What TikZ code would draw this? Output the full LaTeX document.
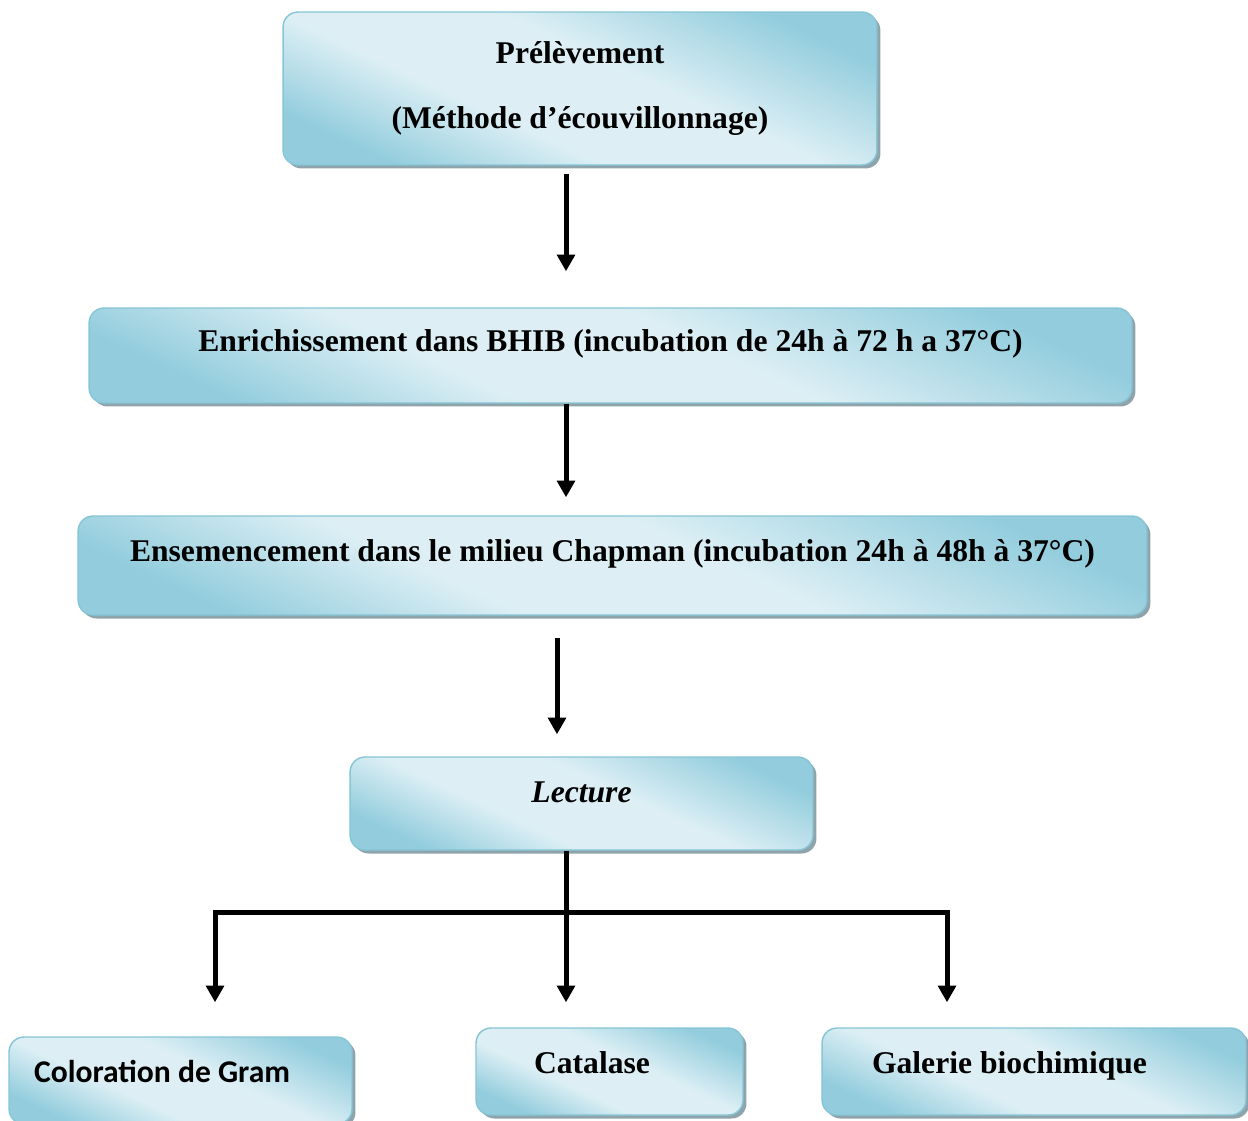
\documentclass[tikz,border=0pt]{standalone}
\usepackage{fontspec}
\setmainfont{Liberation Serif}
\newfontfamily\calibri{Carlito}
\usetikzlibrary{arrows.meta,shadows}

\definecolor{boxlight}{HTML}{DDEFF5}
\definecolor{boxdark}{HTML}{93CDDD}
\definecolor{boxedge}{HTML}{86C5D6}
\definecolor{shadowgray}{HTML}{8FA3AB}
\pgfdeclareverticalshading{stageshade}{100bp}{color(0bp)=(boxdark); color(25bp)=(boxdark);
    color(40bp)=(boxlight); color(56bp)=(boxlight); color(75bp)=(boxdark); color(100bp)=(boxdark)}

\begin{document}
\begin{tikzpicture}[x=0.02cm, y=0.02cm,
    every node/.style={font=\fontsize{18}{22}\selectfont\bfseries},
    stage/.style={draw=boxedge, line width=0.8pt, rounded corners=0.3cm,
        shading=stageshade, shading angle=-25,
        drop shadow={shadow xshift=0.07cm, shadow yshift=-0.07cm, fill=shadowgray, opacity=1}},
    lift/.style={text height=12pt, text depth=#1},
    flow/.style={line width=0.1cm, -{Triangle[width=10pt,length=9.5pt]}},
    link/.style={line width=0.1cm}]
    \useasboundingbox (0,0) rectangle (1248,-1120);

    % boxes
    \node[stage, minimum width=11.88cm, minimum height=3.06cm, align=center] (prel) at (580,-88.5)
        {Prélèvement\\[14.8pt](Méthode d’écouvillonnage)};
    \node[stage, lift=16pt, minimum width=20.86cm, minimum height=1.9cm] (enri) at (610.5,-355.5)
        {Enrichissement dans BHIB (incubation de 24h à 72 h a 37°C)};
    \node[stage, lift=17.1pt, minimum width=21.38cm, minimum height=1.98cm] (ense) at (612.5,-565.5)
        {Ensemencement dans le milieu Chapman (incubation 24h à 48h à 37°C)};
    \node[stage, lift=13.7pt, minimum width=9.26cm, minimum height=1.86cm] (lect) at (581.5,-803.5)
        {\itshape Lecture};
    \node[stage, lift=9.2pt, minimum height=1.74cm, text width=5.86cm, inner xsep=0.5cm, align=flush left,
        font=\calibri\fontsize{18}{22}\selectfont\bfseries] (gram) at (180.5,-1080.5) {Coloration de Gram};
    \node[stage, lift=10.3pt, minimum height=1.74cm, text width=3.02cm, inner xsep=1.16cm, align=flush left]
        (cata) at (609.5,-1071.5) {Catalase};
    \node[stage, lift=10.3pt, minimum height=1.74cm, text width=6.48cm, inner xsep=1cm, align=flush left]
        (gale) at (1034,-1071.5) {Galerie biochimique};

    % arrows
    \coordinate (spine) at (566,-912);
    \coordinate (midaxis) at (557,-912);
    \coordinate (gl) at (215,-912);
    \coordinate (gr) at (947,-912);
    \draw[flow, shorten <=0.16cm, shorten >=0.72cm] (prel.south -| spine) -- (enri.north -| spine);
    \draw[flow, shorten >=0.36cm] (enri.south -| spine) -- (ense.north -| spine);
    \draw[flow, shorten <=0.44cm, shorten >=0.44cm] (ense.south -| midaxis) -- (lect.north -| midaxis);

    % branches
    \draw[flow, shorten >=0.68cm] (spine) -- (gl) -- (gram.north -| gl);
    \draw[flow, shorten >=0.5cm] (lect.south -| spine) -- (cata.north -| spine);
    \draw[flow, shorten >=0.5cm] (spine) -- (gr) -- (gale.north -| gr);
\end{tikzpicture}
\end{document}
